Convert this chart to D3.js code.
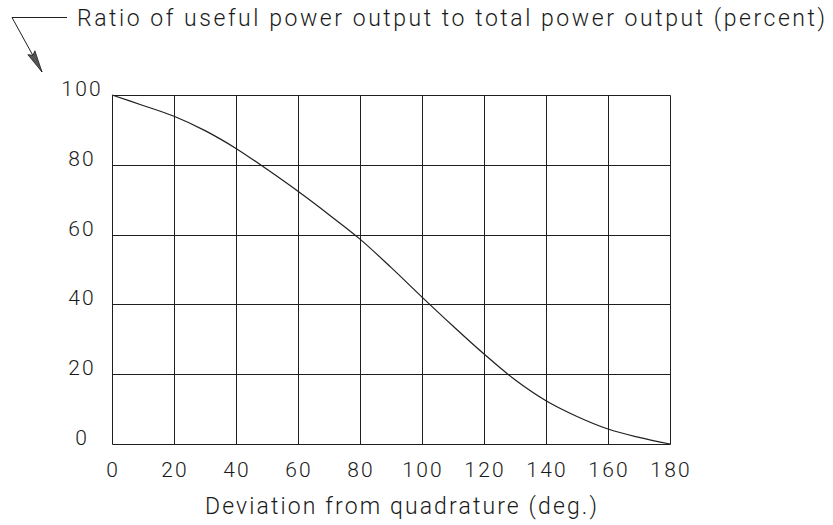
<!DOCTYPE html>
<html>
<head>
<meta charset="utf-8">
<script src="https://cdn.jsdelivr.net/npm/d3@7/dist/d3.min.js"></script>
<style>
  html, body { margin: 0; padding: 0; background: #fff; }
  svg { display: block; }
  text { font-family: Roboto, "DejaVu Sans", sans-serif; font-weight: 300; fill: #1a1a1a; }
</style>
</head>
<body>
<div id="chart"></div>
<script>
// Phase deviation from quadrature (degrees)
const deviation = [0, 10, 20, 30, 40, 50, 60, 70, 80, 90, 100, 110, 120, 130, 140, 150, 160, 170, 180];
// Useful power as a percentage of total power output
const usefulRatio = [100, 97.0, 93.9, 89.8, 84.7, 78.7, 72.4, 65.7, 58.7, 50.6, 42.1, 33.8, 25.8, 18.4, 12.4, 7.9, 4.3, 1.9, 0];

const xTicks = [0, 20, 40, 60, 80, 100, 120, 140, 160, 180];
const yTicks = [0, 20, 40, 60, 80, 100];

const yTitle = "Ratio of useful power output to total power output (percent)";
const xTitle = "Deviation from quadrature (deg.)";

const W = 833, H = 525;
const plot = { left: 112, right: 670, top: 95, bottom: 444 };
const ink = "#1f1f1f";

const svg = d3.select("#chart").append("svg")
  .attr("width", W).attr("height", H);

const x = d3.scaleLinear().domain([0, 180]).range([plot.left, plot.right]);
const y = d3.scaleLinear().domain([0, 100]).range([plot.bottom, plot.top]);

const crisp = v => Math.round(v) + 0.5;

// Grid: vertical lines every 20 degrees, horizontal every 20 percent
const grid = svg.append("g").attr("stroke", ink).attr("stroke-width", 1).attr("fill", "none");
grid.selectAll("line.v").data(xTicks).join("line")
  .attr("class", "v")
  .attr("x1", d => crisp(x(d))).attr("x2", d => crisp(x(d)))
  .attr("y1", crisp(y(100))).attr("y2", crisp(y(0)));
grid.selectAll("line.h").data(yTicks).join("line")
  .attr("class", "h")
  .attr("x1", crisp(x(0))).attr("x2", crisp(x(180)))
  .attr("y1", d => crisp(y(d))).attr("y2", d => crisp(y(d)));

// Tick labels (wide drafting-style spacing)
const tickSize = 21, tickSpacing = 2.2;
svg.append("g").selectAll("text").data(xTicks).join("text")
  .attr("x", d => x(d) + tickSpacing / 2)
  .attr("y", 477)
  .attr("text-anchor", "middle")
  .attr("font-size", tickSize)
  .attr("letter-spacing", tickSpacing)
  .text(d => d);

svg.append("g").selectAll("text").data(yTicks).join("text")
  .attr("x", 81 + tickSpacing / 2)
  .attr("y", d => y(d) + 1)
  .attr("text-anchor", "middle")
  .attr("font-size", tickSize)
  .attr("letter-spacing", tickSpacing)
  .text(d => d);

// Curve
const line = d3.line()
  .x((d, i) => x(deviation[i]))
  .y(d => y(d))
  .curve(d3.curveCatmullRom.alpha(0.5));

svg.append("path")
  .datum(usefulRatio)
  .attr("d", line)
  .attr("fill", "none")
  .attr("stroke", ink)
  .attr("stroke-width", 1.2);

// Axis titles
svg.append("text")
  .attr("x", 205).attr("y", 514)
  .attr("font-size", 23)
  .attr("textLength", 392)
  .attr("lengthAdjust", "spacing")
  .text(xTitle);

svg.append("text")
  .attr("x", 77).attr("y", 26)
  .attr("font-size", 23)
  .attr("textLength", 748)
  .attr("lengthAdjust", "spacing")
  .text(yTitle);

// Leader line with arrowhead pointing down to the y axis labels
const lead = svg.append("g");
lead.append("polyline")
  .attr("points", "67,17.5 12,17.5 42,72")
  .attr("fill", "none")
  .attr("stroke", ink)
  .attr("stroke-width", 1);

// Narrow drafting arrowhead along the leader direction
const tip = [42, 72], tail = [12, 17.5];
const len = Math.hypot(tip[0] - tail[0], tip[1] - tail[1]);
const ux = (tip[0] - tail[0]) / len, uy = (tip[1] - tail[1]) / len;
const back = 22, half = 4;
const bx = tip[0] - ux * back, by = tip[1] - uy * back;
const px = -uy, py = ux;
lead.append("polygon")
  .attr("points", [
    tip,
    [bx + px * half, by + py * half],
    [tip[0] - ux * (back - 3), tip[1] - uy * (back - 3)],
    [bx - px * half, by - py * half]
  ].map(p => p.join(",")).join(" "))
  .attr("fill", "#555")
  .attr("stroke", ink)
  .attr("stroke-width", 0.8);
</script>
</body>
</html>
